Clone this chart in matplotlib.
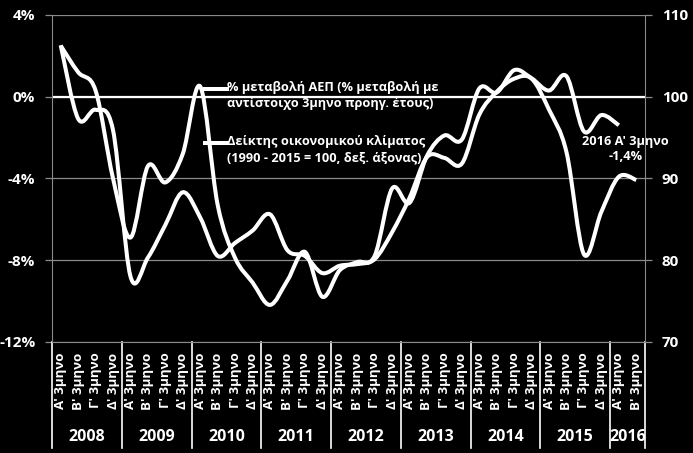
import numpy as np
import matplotlib.pyplot as plt
from matplotlib.path import Path
from matplotlib.patches import PathPatch
from matplotlib.lines import Line2D
import matplotlib.transforms as mtransforms

plt.rcParams['font.family'] = ['Open Sans', 'DejaVu Sans']
plt.rcParams['font.weight'] = 'bold'

years = ['2008', '2009', '2010', '2011', '2012', '2013', '2014', '2015', '2016']
quarters_per_year = [4, 4, 4, 4, 4, 4, 4, 4, 2]
quarter_names = ["Α' 3μηνο", "Β' 3μηνο", "Γ' 3μηνο", "Δ' 3μηνο"]

# % change of GDP vs same quarter of previous year (2008 Q1 - 2016 Q1)
gdp_change = [2.5, 1.2, 0.3, -4.0, -6.9, -3.4, -4.2, -2.8, 0.5, -5.3,
              -7.9, -9.1, -10.2, -9.0, -7.6, -9.8, -8.5, -8.1, -7.8, -4.5,
              -5.2, -2.9, -1.9, -2.1, 0.4, 0.2, 1.3, 0.9, 0.3, 1.0,
              -1.7, -0.9, -1.4]
# economic climate index, right axis (2008 Q1 - 2016 Q2)
climate_index = [106.3, 97.3, 98.4, 95.9, 78.0, 80.3, 84.3, 88.3, 85.2, 80.5,
                 82.1, 83.6, 85.6, 81.2, 80.5, 78.4, 79.3, 79.5, 80.1, 83.4,
                 87.6, 92.6, 92.5, 91.8, 97.8, 100.6, 102.2, 102.2, 98.4, 93.2,
                 80.7, 85.9, 90.2, 89.8]

gdp_label = '% μεταβολή ΑΕΠ (% μεταβολή με\nαντίστοιχο 3μηνο προηγ. έτους)'
climate_label = 'Δείκτης οικονομικού κλίματος\n(1990 - 2015 = 100, δεξ. άξονας)'


def smooth_path(vals):
    # smoothed line like the spreadsheet one (cubic bezier through the points)
    pts = np.column_stack([np.arange(len(vals), dtype=float), np.asarray(vals, float)])
    ext = np.vstack([pts[0], pts, pts[-1]])
    verts = [pts[0]]
    codes = [Path.MOVETO]
    for i in range(len(pts) - 1):
        p0, p1, p2, p3 = ext[i], ext[i + 1], ext[i + 2], ext[i + 3]
        verts += [p1 + (p2 - p0) / 6, p2 - (p3 - p1) / 6, p2]
        codes += [Path.CURVE4] * 3
    return Path(verts, codes)


fig = plt.figure(figsize=(6.93, 4.53), dpi=100, facecolor='black')
ax = fig.add_axes([0.075, 0.2457, 0.8557, 0.7212])
ax.set_facecolor('black')
ax2 = ax.twinx()

n = sum(quarters_per_year)
for a in (ax, ax2):
    a.set_xlim(-0.5, n - 0.5)
    a.set_xticks([])
ax.set_ylim(-12, 4)
ax2.set_ylim(70, 110)

ax.set_yticks([-12, -8, -4, 0, 4])
ax.set_yticklabels([f'{v}%' for v in [-12, -8, -4, 0, 4]])
ax2.set_yticks([70, 80, 90, 100, 110])

grid_col = '#8a8a8a'
ax.yaxis.grid(True, color=grid_col, lw=0.9)
ax.set_axisbelow(True)
ax.axhline(0, color='white', lw=1.6, zorder=1)

for a in (ax, ax2):
    for s in a.spines.values():
        s.set_visible(False)
    a.tick_params(axis='y', colors=grid_col, length=5, width=0.9, labelcolor='white',
                  labelsize=11, pad=7)
ax.spines['left'].set_visible(True)
ax.spines['left'].set_color(grid_col)
ax2.spines['right'].set_visible(True)
ax2.spines['right'].set_color(grid_col)
ax.spines['bottom'].set_visible(True)
ax.spines['bottom'].set_color(grid_col)
for lab in ax.get_yticklabels() + ax2.get_yticklabels():
    lab.set_fontweight('bold')

ax.add_patch(PathPatch(smooth_path(gdp_change), facecolor='none', edgecolor='white',
                       lw=2.9, joinstyle='round', capstyle='butt', zorder=3))
ax2.add_patch(PathPatch(smooth_path(climate_index), facecolor='none', edgecolor='white',
                        lw=2.9, joinstyle='round', capstyle='butt', zorder=3))

# category axis: quarters and years
trans = mtransforms.blended_transform_factory(ax.transData, ax.transAxes)
pos = 0
ax.add_line(Line2D([-0.5, -0.5], [0, -0.325], transform=trans, color='white',
                   lw=1.2, clip_on=False))
for yr, nq in zip(years, quarters_per_year):
    for q in range(nq):
        ax.text(pos + q, -0.033, quarter_names[q], transform=trans, rotation=90,
                ha='center', va='top', color='white', fontsize=9.5, fontweight='bold')
    ax.text(pos + (nq - 1) / 2, -0.292, yr, transform=trans, ha='center', va='center',
            color='white', fontsize=11.5, fontweight='bold')
    pos += nq
    ax.add_line(Line2D([pos - 0.5, pos - 0.5], [0, -0.325], transform=trans,
                       color='white', lw=1.2, clip_on=False))

# legend drawn like the original (line beside first text row)
for (y_line, label) in [(0.772, gdp_label), (0.608, climate_label)]:
    ax.add_line(Line2D([8.3, 9.55], [y_line, y_line], transform=trans, color='white',
                       lw=2.9, clip_on=False))
    ax.text(9.55, y_line + 0.026, label, transform=trans, ha='left', va='top',
            color='white', fontsize=9.2, fontweight='bold', linespacing=1.35)

ax.annotate("2016 Α' 3μηνο\n-1,4%", xy=(n - 2, gdp_change[-1]), xytext=(5, -17),
            textcoords='offset points', ha='center', va='center', color='white',
            fontsize=9.2, fontweight='bold', annotation_clip=False, zorder=5)

fig.savefig('out.png', dpi=100, facecolor='black')
